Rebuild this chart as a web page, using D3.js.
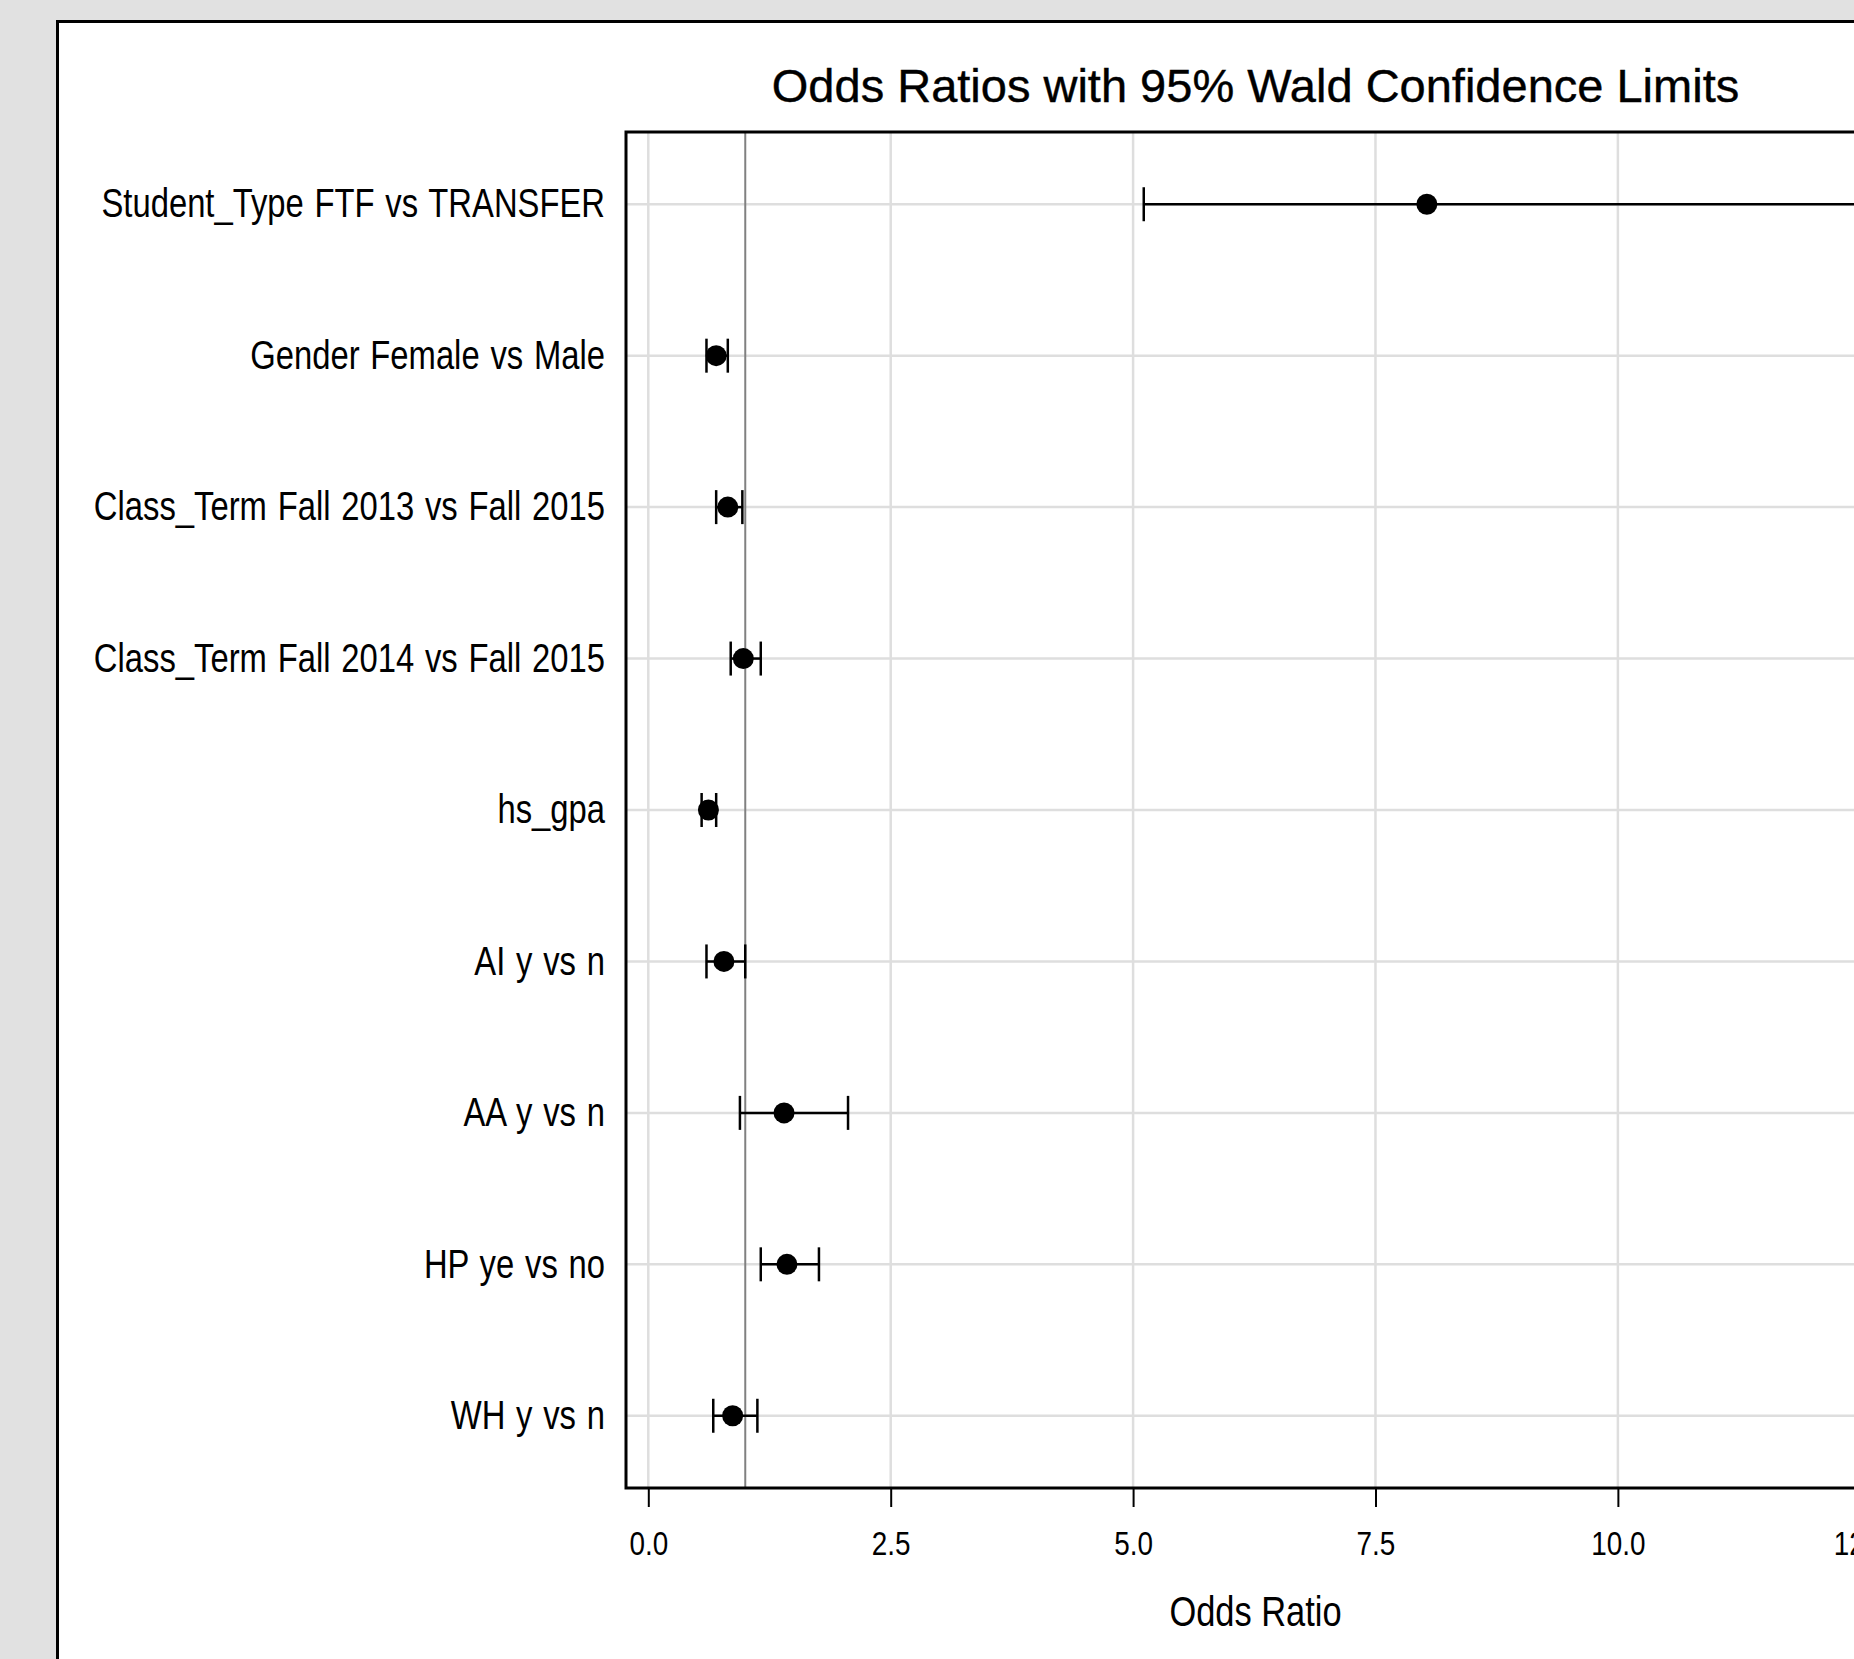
<!DOCTYPE html>
<html>
<head>
<meta charset="utf-8">
<script src="https://cdn.jsdelivr.net/npm/d3@7"></script>
<style>
  html, body { margin: 0; padding: 0; background: #e1e1e1; overflow: hidden; }
  svg { display: block; font-family: "Liberation Sans", Arial, sans-serif; }
</style>
</head>
<body>
<div id="chart"></div>
<script>
var width = 1854, height = 1659;

// effects (top to bottom) and their estimates
var effects = ["Student_Type FTF vs TRANSFER", "Gender Female vs Male",
  "Class_Term Fall 2013 vs Fall 2015", "Class_Term Fall 2014 vs Fall 2015",
  "hs_gpa", "AI y vs n", "AA y vs n", "HP ye vs no", "WH y vs n"];
var oddsRatio = [8.03, 0.70, 0.82, 0.98, 0.62, 0.78, 1.40, 1.43, 0.87];
var lowerCL   = [5.11, 0.60, 0.70, 0.85, 0.55, 0.60, 0.945, 1.16, 0.67];
var upperCL   = [12.62, 0.82, 0.97, 1.16, 0.70, 1.00, 2.06, 1.76, 1.125];
var xTicks = [0, 2.5, 5, 7.5, 10, 12.5];
var xDomain = [-0.23, 12.755];
var refValue = 1;

var rows = effects.map(function(e, i) {
  return {label: e, or: oddsRatio[i], lo: lowerCL[i], hi: upperCL[i]};
});

// plot box
var plotL = 626, plotR = 1885, plotT = 132, plotB = 1488;
var squeeze = 0.82; // narrow look of the axis fonts

var x = d3.scaleLinear().domain(xDomain).range([plotL, plotR]);
var y = d3.scalePoint().domain(effects).range([plotT, plotB]).padding(0.477);

var svg = d3.select("#chart").append("svg").attr("width", width).attr("height", height);

// white panel (runs off the right and bottom of the window)
svg.append("rect").attr("x", 57.5).attr("y", 21.5).attr("width", 2100).attr("height", 1800)
  .attr("fill", "#fff").attr("stroke", "#000").attr("stroke-width", 3);

// title
svg.append("text").attr("x", (plotL + plotR) / 2).attr("y", 102)
  .attr("text-anchor", "middle").style("font-size", "47px")
  .style("stroke", "#000").style("stroke-width", 0.4)
  .text("Odds Ratios with 95% Wald Confidence Limits");

// grid
var grid = svg.append("g");
grid.selectAll(".vgrid").data(xTicks).enter().append("line")
  .attr("x1", function(d) { return x(d); }).attr("x2", function(d) { return x(d); })
  .attr("y1", plotT).attr("y2", plotB)
  .attr("stroke", "#dedede").attr("stroke-width", 2.5);
grid.selectAll(".hgrid").data(effects).enter().append("line")
  .attr("x1", plotL).attr("x2", plotR)
  .attr("y1", function(d) { return y(d); }).attr("y2", function(d) { return y(d); })
  .attr("stroke", "#dedede").attr("stroke-width", 2.5);

// reference line at OR = 1
svg.append("line").attr("x1", x(refValue)).attr("x2", x(refValue))
  .attr("y1", plotT).attr("y2", plotB)
  .attr("stroke", "#808080").attr("stroke-width", 2);

// error bars + markers
var g = svg.append("g").selectAll("g").data(rows).enter().append("g")
  .attr("transform", function(d) { return "translate(0," + y(d.label) + ")"; });
g.append("line").attr("x1", function(d) { return x(d.lo); }).attr("x2", function(d) { return x(d.hi); })
  .attr("stroke", "#000").attr("stroke-width", 2.5);
g.append("line").attr("x1", function(d) { return x(d.lo); }).attr("x2", function(d) { return x(d.lo); })
  .attr("y1", -17).attr("y2", 17).attr("stroke", "#000").attr("stroke-width", 2.5);
g.append("line").attr("x1", function(d) { return x(d.hi); }).attr("x2", function(d) { return x(d.hi); })
  .attr("y1", -17).attr("y2", 17).attr("stroke", "#000").attr("stroke-width", 2.5);
g.append("circle").attr("cx", function(d) { return x(d.or); }).attr("r", 10.5).attr("fill", "#000");

// frame
svg.append("rect").attr("x", plotL).attr("y", plotT).attr("width", plotR - plotL).attr("height", plotB - plotT)
  .attr("fill", "none").attr("stroke", "#000").attr("stroke-width", 3);

// x axis
var xAxis = d3.axisBottom(x).tickValues(xTicks).tickFormat(d3.format(".1f"))
  .tickSize(19).tickPadding(24);
var ax = svg.append("g").attr("transform", "translate(0," + plotB + ")").call(xAxis);
ax.attr("font-family", null).attr("font-size", null);
ax.select(".domain").remove();
ax.selectAll(".tick line").attr("stroke", "#000").attr("stroke-width", 2);
ax.selectAll(".tick text").attr("fill", "#000").style("font-size", "34px")
  .attr("transform", "scale(" + squeeze + ",1)");

svg.append("text")
  .attr("transform", "translate(" + (plotL + plotR) / 2 + ",1626) scale(" + squeeze + ",1)")
  .attr("text-anchor", "middle").style("font-size", "42px").text("Odds Ratio");

// y labels
svg.append("g").selectAll("text").data(effects).enter().append("text")
  .attr("transform", function(d) { return "translate(605," + y(d) + ") scale(" + squeeze + ",1)"; })
  .attr("dy", "0.33em")
  .attr("text-anchor", "end").style("font-size", "40px").style("word-spacing", "2px")
  .text(function(d) { return d; });
</script>
</body>
</html>
